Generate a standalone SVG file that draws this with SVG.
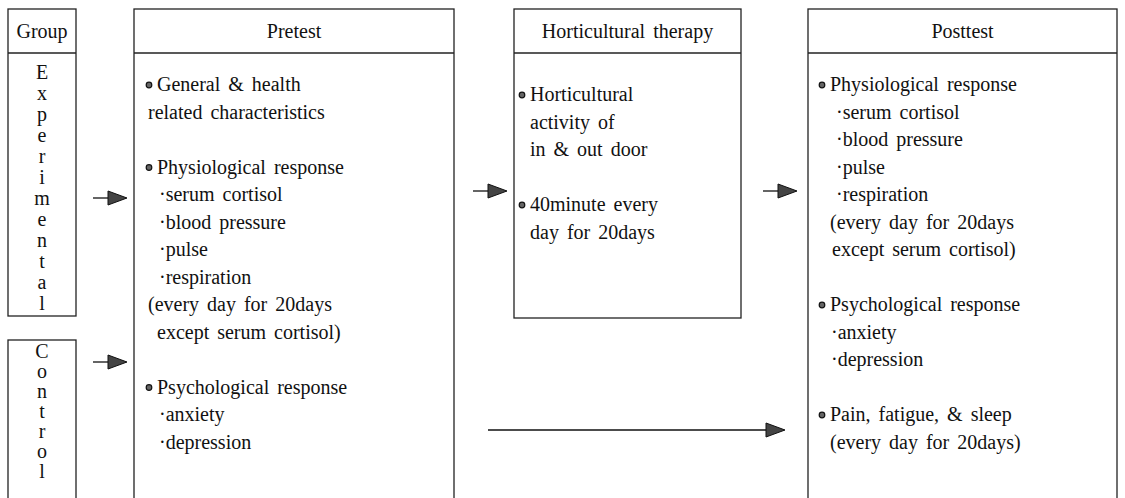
<svg xmlns="http://www.w3.org/2000/svg" width="1125" height="498" viewBox="0 0 1125 498">
  <defs>
    <style>
      .box { fill: #fff; stroke: #222; stroke-width: 1.3; }
      .sep { stroke: #222; stroke-width: 1.3; }
      text { font-family: "Liberation Serif", "DejaVu Serif", serif; font-size: 20px; fill: #111; word-spacing: 3px; }
      .c { text-anchor: middle; }
      .bul { fill: #666; stroke: #111; stroke-width: 1.2; }
      .ln { stroke: #111; stroke-width: 1.3; fill: none; }
      .head { fill: #444; stroke: #111; stroke-width: 1; }
    </style>
  </defs>

  <g id="group">
    <rect class="box" x="8" y="9" width="68" height="307"/>
    <line class="sep" x1="8" y1="53" x2="76" y2="53"/>
    <text class="c" x="42" y="38">Group</text>
  </g>

  <g id="experimental">
    <text class="c" x="42" y="79">E</text>
    <text class="c" x="42" y="100">x</text>
    <text class="c" x="42" y="121">p</text>
    <text class="c" x="42" y="142">e</text>
    <text class="c" x="42" y="163">r</text>
    <text class="c" x="42" y="184">i</text>
    <text class="c" x="42" y="205">m</text>
    <text class="c" x="42" y="226">e</text>
    <text class="c" x="42" y="247">n</text>
    <text class="c" x="42" y="268">t</text>
    <text class="c" x="42" y="289">a</text>
    <text class="c" x="42" y="310">l</text>
  </g>

  <g id="control">
    <rect class="box" x="8" y="340" width="68" height="180"/>
    <text class="c" x="42" y="358">C</text>
    <text class="c" x="42" y="378">o</text>
    <text class="c" x="42" y="398">n</text>
    <text class="c" x="42" y="418">t</text>
    <text class="c" x="42" y="438">r</text>
    <text class="c" x="42" y="458">o</text>
    <text class="c" x="42" y="478">l</text>
  </g>

  <g id="pretest">
    <rect class="box" x="134" y="9" width="320" height="510"/>
    <line class="sep" x1="134" y1="53" x2="454" y2="53"/>
    <text class="c" x="294" y="38">Pretest</text>
    <circle class="bul" cx="149" cy="85" r="2.8"/>
    <text x="157" y="91">General &amp; health</text>
    <text x="148" y="118.5">related characteristics</text>
    <circle class="bul" cx="149" cy="167.5" r="2.8"/>
    <text x="157" y="173.5">Physiological response</text>
    <text x="159" y="201">·serum cortisol</text>
    <text x="159" y="228.5">·blood pressure</text>
    <text x="159" y="256">·pulse</text>
    <text x="159" y="283.5">·respiration</text>
    <text x="148" y="311">(every day for 20days</text>
    <text x="157" y="338.5">except serum cortisol)</text>
    <circle class="bul" cx="149" cy="387.5" r="2.8"/>
    <text x="157" y="393.5">Psychological response</text>
    <text x="159" y="421">·anxiety</text>
    <text x="159" y="448.5">·depression</text>
  </g>

  <g id="therapy">
    <rect class="box" x="514" y="9" width="227" height="309"/>
    <line class="sep" x1="514" y1="53" x2="741" y2="53"/>
    <text class="c" x="627.5" y="38">Horticultural therapy</text>
    <circle class="bul" cx="522" cy="95" r="2.8"/>
    <text x="530" y="101">Horticultural</text>
    <text x="530" y="128.5">activity of</text>
    <text x="530" y="156">in &amp; out door</text>
    <circle class="bul" cx="522" cy="205" r="2.8"/>
    <text x="530" y="211">40minute every</text>
    <text x="530" y="238.5">day for 20days</text>
  </g>

  <g id="posttest">
    <rect class="box" x="808" y="9" width="309" height="510"/>
    <line class="sep" x1="808" y1="53" x2="1117" y2="53"/>
    <text class="c" x="962.5" y="38">Posttest</text>
    <circle class="bul" cx="822" cy="85" r="2.8"/>
    <text x="830" y="91">Physiological response</text>
    <text x="836" y="118.5">·serum cortisol</text>
    <text x="836" y="146">·blood pressure</text>
    <text x="836" y="173.5">·pulse</text>
    <text x="836" y="201">·respiration</text>
    <text x="830" y="228.5">(every day for 20days</text>
    <text x="832" y="256">except serum cortisol)</text>
    <circle class="bul" cx="822" cy="305" r="2.8"/>
    <text x="830" y="311">Psychological response</text>
    <text x="831" y="338.5">·anxiety</text>
    <text x="831" y="366">·depression</text>
    <circle class="bul" cx="822" cy="415" r="2.8"/>
    <text x="830" y="421">Pain, fatigue, &amp; sleep</text>
    <text x="830" y="448.5">(every day for 20days)</text>
  </g>

  <g id="connectors">
    <line class="ln" x1="93" y1="198" x2="110" y2="198"/>
    <polygon class="head" points="108,191 127,198 108,205"/>
    <line class="ln" x1="93" y1="362" x2="110" y2="362"/>
    <polygon class="head" points="108,355 127,362 108,369"/>
    <line class="ln" x1="473" y1="191" x2="490" y2="191"/>
    <polygon class="head" points="488,184 507,191 488,198"/>
    <line class="ln" x1="763" y1="191" x2="780" y2="191"/>
    <polygon class="head" points="778,184 797,191 778,198"/>
    <line class="ln" x1="488" y1="430" x2="768" y2="430"/>
    <polygon class="head" points="766,423 785,430 766,437"/>
  </g>
</svg>
